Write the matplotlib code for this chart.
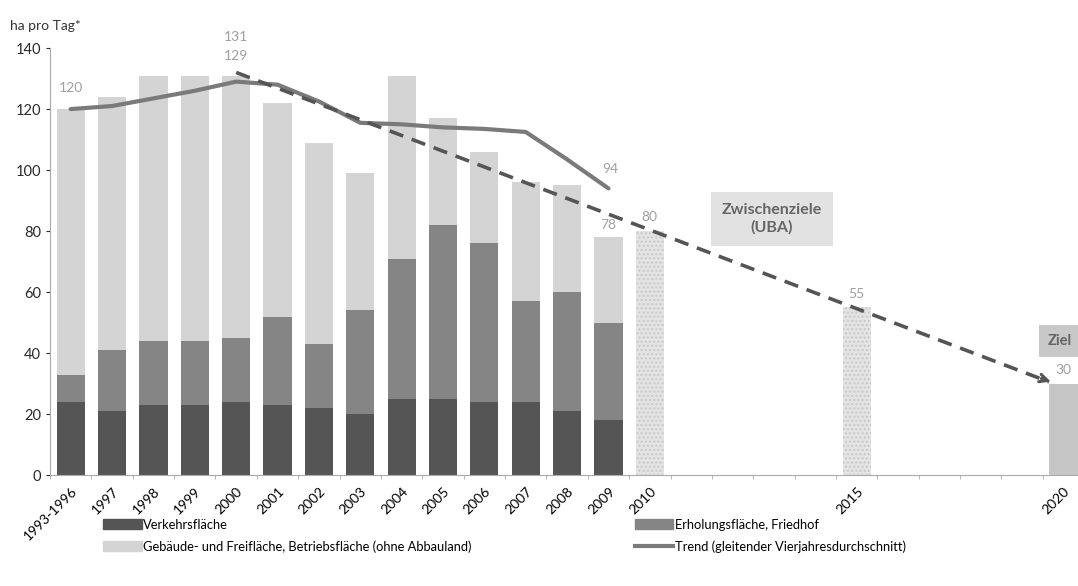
import matplotlib
matplotlib.use('Agg')
import matplotlib.pyplot as plt
from matplotlib.patches import Patch
from matplotlib.lines import Line2D
import numpy as np

plt.rcParams['font.family'] = ['Lato', 'DejaVu Sans']

# category axis: 1993-1996, then one slot per year up to 2020
years = list(range(1996, 2021))
tick_labels = ['1993-1996'] + [str(y) for y in range(1997, 2011)] + ['2015', '2020']
tick_years = [1996] + list(range(1997, 2011)) + [2015, 2020]

bar_years = list(range(1996, 2010))
verkehr = [24, 21, 23, 23, 24, 23, 22, 20, 25, 25, 24, 24, 21, 18]
erholung_top = [33, 41, 44, 44, 45, 52, 43, 54, 71, 82, 76, 57, 60, 50]  # cumulative
total = [120, 124, 131, 131, 131, 122, 109, 99, 131, 117, 106, 96, 95, 78]

trend = [120, 121, 123.5, 126, 129, 128, 122.5, 115.5, 115, 114, 113.5, 112.5, 103.5, 94]

target_years = [2010, 2015]
target_vals = [80, 55]
goal_year = 2020
goal_val = 30

line_years = [2000, 2020]
line_vals = [132, 30]

def pos(y):
    return years.index(y)

fig = plt.figure(figsize=(10.78, 5.86), dpi=100)
ax = fig.add_axes([0.0464, 0.189, 0.9536, 0.729])

x = np.array([pos(y) for y in bar_years])
w = 0.68
c_dark = '#555555'
c_mid = '#858585'
c_light = '#d4d4d4'

mid_h = np.array(erholung_top) - np.array(verkehr)
top_h = np.array(total) - np.array(erholung_top)
ax.bar(x, verkehr, w, color=c_dark, zorder=2)
ax.bar(x, mid_h, w, bottom=verkehr, color=c_mid, zorder=2)
ax.bar(x, top_h, w, bottom=erholung_top, color=c_light, zorder=2)

tx = [pos(y) for y in target_years]
ax.bar(tx, target_vals, w, color='#e4e4e4', hatch='....', edgecolor='#c8c8c8', linewidth=0, zorder=2)
ax.bar(pos(goal_year), goal_val, w, color='#c6c6c6', zorder=2)

# trend line (moving average)
ax.plot(x, trend, color='#7a7a7a', linewidth=3, zorder=4, solid_capstyle='round')

# dashed target path
lx = [pos(y) for y in line_years]
ax.plot([lx[0], lx[1] - 0.35], [line_vals[0], line_vals[1] + 0.6], color='#555555',
        linewidth=2.6, dashes=(4, 2.5), zorder=5)
ax.annotate('', xy=(lx[1] - 0.25, line_vals[1] + 0.4), xytext=(lx[1] - 0.6, line_vals[1] + 2.0),
            arrowprops=dict(arrowstyle='->', color='#555555', lw=2.2, mutation_scale=14), zorder=5)

# value labels
lab_c = '#a0a0a0'
fs = 10
ax.text(pos(1996), total[0] + 7, '120', ha='center', va='center', color=lab_c, fontsize=fs)
ax.text(pos(2000), 143.5, '131', ha='center', va='center', color=lab_c, fontsize=fs)
ax.text(pos(2000), 137.5, '129', ha='center', va='center', color=lab_c, fontsize=fs)
ax.text(pos(2009) + 0.05, trend[-1] + 6.5, '94', ha='center', va='center', color=lab_c, fontsize=fs)
ax.text(pos(2009), total[-1] + 4, '78', ha='center', va='center', color=lab_c, fontsize=fs)
for yv, v in zip(target_years, target_vals):
    ax.text(pos(yv), v + 4.5, str(v), ha='center', va='center', color=lab_c, fontsize=fs)
ax.text(pos(goal_year), goal_val + 4.5, str(goal_val), ha='center', va='center', color=lab_c, fontsize=fs)

# boxes
ax.text(pos(2013) - 0.05, 84, 'Zwischenziele\n(UBA)', ha='center', va='center', color='#666666',
        fontsize=11.5, fontweight='bold', linespacing=1.3,
        bbox=dict(boxstyle='square,pad=0.7', facecolor='#e2e2e2', edgecolor='none'), zorder=6)
ax.text(pos(goal_year) - 0.08, 44, 'Ziel', ha='center', va='center', color='#666666',
        fontsize=10.5, fontweight='bold',
        bbox=dict(boxstyle='square,pad=0.6', facecolor='#c8c8c8', edgecolor='none'), zorder=6)

ax.set_ylim(0, 140)
ax.set_xlim(-0.5, 24.35)
ax.set_yticks(range(0, 141, 20))
ax.tick_params(axis='y', labelsize=10.5, colors='#2a2a2a', length=3)
ax.set_xticks([pos(y) for y in tick_years])
ax.set_xticklabels(tick_labels, rotation=45, ha='right', rotation_mode='anchor', fontsize=10)
ax.tick_params(axis='x', length=0, pad=7)
ax.set_xticks(np.arange(-0.5, 24.5, 1), minor=True)
ax.tick_params(axis='x', which='minor', length=3, color='#aaaaaa')
for s in ['top', 'right']:
    ax.spines[s].set_visible(False)
ax.spines['left'].set_color('#aaaaaa')
ax.spines['bottom'].set_color('#aaaaaa')

fig.text(0.009, 0.955, 'ha pro Tag*', fontsize=10, color='#333333', va='center')

handles = [Patch(color=c_dark), Patch(color=c_light), Patch(color=c_mid),
           Line2D([], [], color='#7a7a7a', linewidth=3)]
labels = ['Verkehrsfläche', 'Gebäude- und Freifläche, Betriebsfläche (ohne Abbauland)',
          'Erholungsfläche, Friedhof', 'Trend (gleitender Vierjahresdurchschnitt)']
fig.legend(handles, labels, ncol=2, loc='upper left', bbox_to_anchor=(0.085, 0.135),
           frameon=False, fontsize=9.3, columnspacing=12.6, handlelength=3.0, handletextpad=0.1,
           labelspacing=0.75, handleheight=0.8)

fig.savefig('out.png', dpi=100)
